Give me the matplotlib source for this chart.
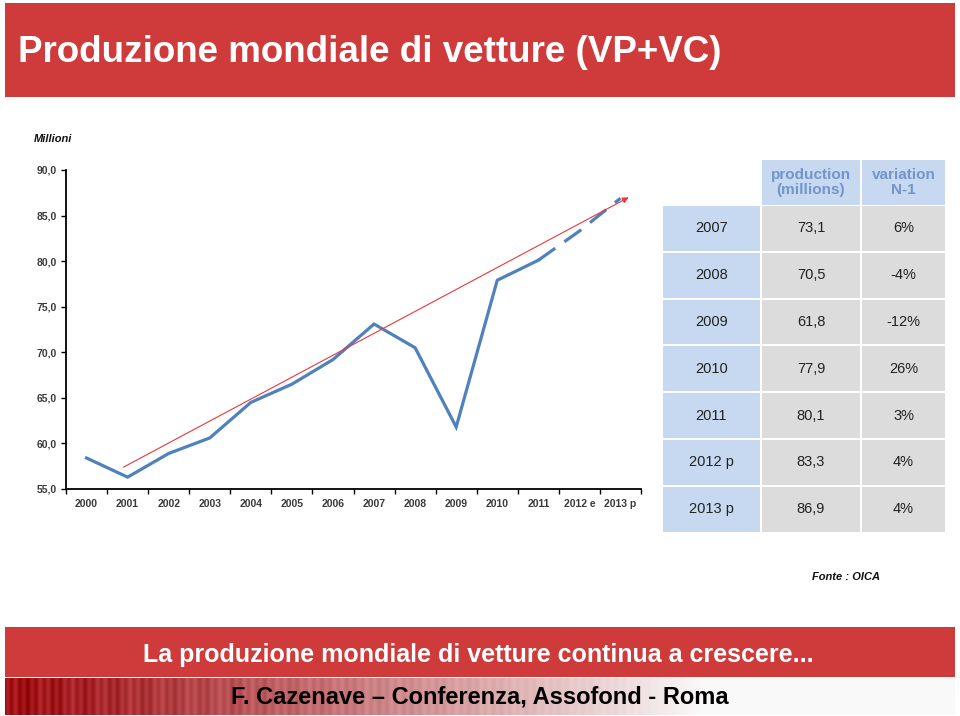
import numpy as np
import matplotlib.pyplot as plt
from matplotlib.patches import Rectangle

plt.rcParams['font.family'] = ['Liberation Sans', 'DejaVu Sans']

# dati del grafico (milioni di vetture)
anni = ['2000', '2001', '2002', '2003', '2004', '2005', '2006', '2007',
        '2008', '2009', '2010', '2011', '2012 e', '2013 p']
produzione = [58.4, 56.3, 58.9, 60.6, 64.5, 66.5, 69.2, 73.1,
              70.5, 61.8, 77.9, 80.1, 83.3, 86.9]
ultimo_reale = 11  # dopo il 2011 linea tratteggiata (stime)

# retta di tendenza (freccia rossa)
trend_x = [0.9, 13.2]
trend_y = [57.4, 87.0]

# tabella a destra
tab_anni = ['2007', '2008', '2009', '2010', '2011', '2012 p', '2013 p']
tab_prod = ['73,1', '70,5', '61,8', '77,9', '80,1', '83,3', '86,9']
tab_var = ['6%', '-4%', '-12%', '26%', '3%', '4%', '4%']
tab_header = ['', 'production\n(millions)', 'variation\nN-1']

rosso = '#cf3a3b'
blu = '#4f81bd'

W, H = 960, 716
fig = plt.figure(figsize=(W / 100, H / 100), dpi=100)

# sfondo in coordinate pixel
bg = fig.add_axes([0, 0, 1, 1])
bg.set_xlim(0, W)
bg.set_ylim(H, 0)
bg.axis('off')

# banner titolo
bg.add_patch(Rectangle((5, 3), 950, 94, color=rosso, lw=0))
bg.text(18, 52, 'Produzione mondiale di vetture (VP+VC)', color='white',
        fontsize=26.5, fontweight='bold', va='center', ha='left')
bg.text(34, 139, 'Millioni', fontsize=8, style='italic', fontweight='bold',
        va='center', color='#111')

# tabella
col_x = [663, 762, 862]
col_w = [97, 98, 83]
row_h = 46.8
top = 160
for j, h in enumerate(tab_header):
    if h:
        bg.add_patch(Rectangle((col_x[j], top), col_w[j], 45, color='#c6d9f0', lw=0))
        bg.text(col_x[j] + col_w[j] / 2, top + 22.5, h, ha='center', va='center',
                fontsize=11, fontweight='bold', color='#7395c9', linespacing=1.05)
for i in range(len(tab_anni)):
    y0 = top + 46 + i * row_h
    celle = [tab_anni[i], tab_prod[i], tab_var[i]]
    for j, c in enumerate(celle):
        colore = '#c6d9f0' if j == 0 else '#dcdcdc'
        bg.add_patch(Rectangle((col_x[j], y0), col_w[j], row_h - 2, color=colore, lw=0))
        bg.text(col_x[j] + col_w[j] / 2, y0 + (row_h - 2) / 2, c, ha='center',
                va='center', fontsize=10.5, color='#222')

bg.text(880, 577, 'Fonte : OICA', fontsize=8, style='italic', fontweight='bold',
        ha='right', va='center', color='#111')

# banner in basso
bg.add_patch(Rectangle((5, 627), 950, 50, color=rosso, lw=0))
bg.text(478, 655, 'La produzione mondiale di vetture continua a crescere...',
        color='white', fontsize=18, fontweight='bold', ha='center', va='center')

# striscia sfumata con righe verticali sottili
xs = np.arange(950)
t = np.clip(xs / 700.0, 0, 1)
righe = 0.05 * (np.sin(xs / 1.3) + 0.6 * np.sin(xs / 4.7)) * (1 - t)
base = np.array([0.62, 0.05, 0.07])
img = np.zeros((1, 950, 3))
for k in range(3):
    img[0, :, k] = base[k] + (0.98 - base[k]) * t ** 1.1 + righe
img = np.clip(img, 0, 1)
bg.imshow(img, extent=(5, 955, 715, 678), aspect='auto', zorder=0)
bg.text(480, 697, 'F. Cazenave \u2013 Conferenza, Assofond - Roma',
        color='black', fontsize=17, fontweight='bold', ha='center', va='center',
        zorder=2)

# grafico
ax = fig.add_axes([66 / W, 1 - 489 / H, 575 / W, 319 / H])
ax.patch.set_alpha(0)
x = np.arange(len(anni))
ax.plot(x[:ultimo_reale + 1], produzione[:ultimo_reale + 1], color=blu, lw=2.3,
        solid_joinstyle='miter', zorder=3)
ax.plot(x[ultimo_reale:], produzione[ultimo_reale:], color=blu, lw=2.3,
        dashes=(6.5, 3.5), zorder=3)
ax.annotate('', xy=(trend_x[1], trend_y[1]), xytext=(trend_x[0], trend_y[0]),
            arrowprops=dict(arrowstyle='-|>', color='#e8383d', lw=0.8,
                            mutation_scale=9, shrinkA=0, shrinkB=0), zorder=4)

ax.set_xlim(-0.5, len(anni) - 0.5)
ax.set_ylim(55, 90)
ax.set_yticks(np.arange(55, 91, 5))
ax.set_yticklabels([f'{v:.1f}'.replace('.', ',') for v in np.arange(55, 91, 5)],
                   fontweight='bold')
ax.set_xticks(np.arange(-0.5, len(anni)), minor=False)
ax.set_xticklabels([])
ax.set_xticks(x, minor=True)
ax.set_xticklabels(anni, minor=True, fontweight='bold')
ax.tick_params(axis='x', which='minor', length=0, pad=7, labelsize=7.5,
               labelcolor='#3a3a3a')
ax.tick_params(axis='x', which='major', length=3.5, width=1, direction='out')
ax.tick_params(axis='y', length=3.5, width=1, labelsize=7.5, labelcolor='#3a3a3a', pad=3)
for s in ['top', 'right']:
    ax.spines[s].set_visible(False)
for s in ['left', 'bottom']:
    ax.spines[s].set_linewidth(1.3)

fig.savefig('out.png', dpi=100)
